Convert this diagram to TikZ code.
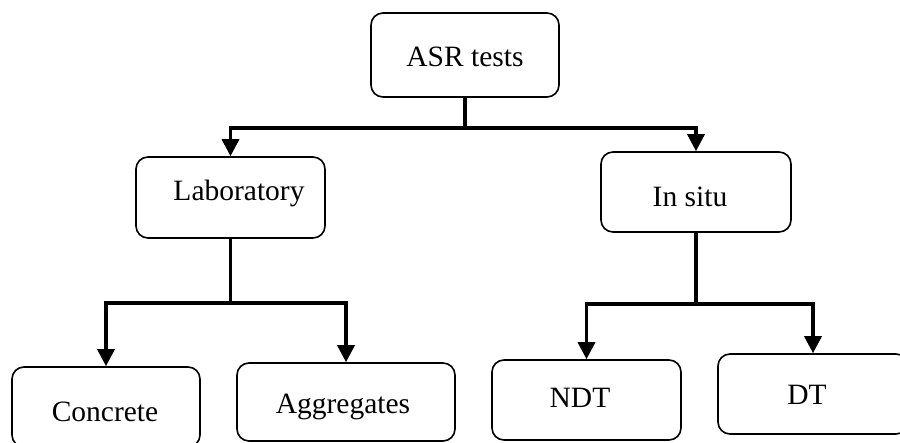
\documentclass[tikz,border=0pt]{standalone}
\usepackage{fontspec}
\setmainfont{Liberation Serif}
\usetikzlibrary{arrows.meta}
\begin{document}
\begin{tikzpicture}[x=1pt,y=-1pt,
  box/.style={draw, line width=1.6pt, rounded corners=12pt, inner sep=0pt, fill=white},
  txt/.style={font=\fontsize{29.5}{34}\selectfont},
  conn/.style={line width=3.4pt},
  arr/.style={line width=3.4pt, -{Triangle[width=17pt,length=17pt]}}]
\clip (0,0) rectangle (900,442);
\fill[white] (0,0) rectangle (900,442);
\node[box, minimum width=188pt, minimum height=84pt] (asr) at (465,55) {};
\node[txt] (asrt) at (465,57) {ASR tests};
\node[box, minimum width=189pt, minimum height=81pt] (lab) at (230.5,197.5) {};
\node[txt] (labt) at (239,193) {Laboratory};
\node[box, minimum width=190pt, minimum height=80pt] (ins) at (696,192) {};
\node[txt] (inst) at (690,197) {In situ};
\node[box, minimum width=188pt, minimum height=80pt] (con) at (106,407) {};
\node[txt] (cont) at (105,412) {Concrete};
\node[box, minimum width=218pt, minimum height=78pt] (agg) at (346,402) {};
\node[txt] (aggt) at (343,407) {Aggregates};
\node[box, minimum width=189pt, minimum height=80pt] (ndt) at (586.5,400) {};
\node[txt] (ndtt) at (580,398) {NDT};
\node[box, minimum width=190pt, minimum height=80pt] (dt) at (813,394) {};
\node[txt] (dtt) at (807,395) {DT};
\coordinate (j1) at ([yshift=-30pt]asr.south);
\coordinate (j2) at ([yshift=-64pt]lab.south);
\coordinate (j3) at ([yshift=-71pt]ins.south);
\draw[conn] (asr.south) -- (j1);
\draw[arr] (j1) -| (lab.north);
\draw[arr] (j1) -| (ins.north);
\draw[conn] (lab.south) -- (j2);
\draw[arr] (j2) -| (con.north);
\draw[arr] (j2) -| (agg.north);
\draw[conn] (ins.south) -- (j3);
\draw[arr] (j3) -| (ndt.north);
\draw[arr] (j3) -| (dt.north);
\end{tikzpicture}
\end{document}
